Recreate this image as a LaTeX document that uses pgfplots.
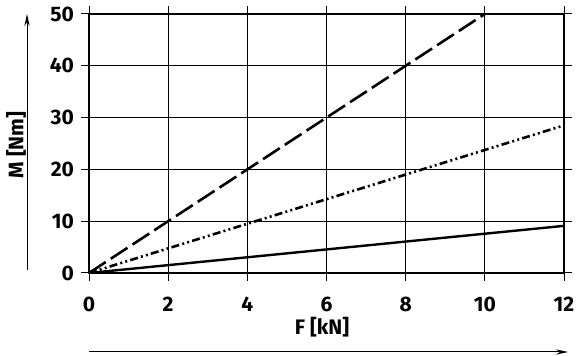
\documentclass[border=0pt]{standalone}
\usepackage{fontspec}
\setmainfont{Fira Sans}
\usepackage{pgfplots}
\pgfplotsset{compat=1.18}
\usetikzlibrary{arrows.meta}
\begin{document}
\begin{tikzpicture}[font=\bfseries\fontsize{10.5}{12}\selectfont]
\useasboundingbox (0,0) rectangle (288.5pt,178pt);
\begin{axis}[
  at={(44.5pt,41.5pt)}, anchor=origin,
  scale only axis, width=237.5pt, height=129.5pt,
  xmin=0, xmax=12, ymin=0, ymax=50,
  xtick={0,2,...,12}, ytick={0,10,...,50},
  grid=major,
  major grid style={black, line width=0.5pt},
  axis line style={black, line width=0.6pt},
  tick style={black, line width=0.5pt},
  tick align=outside, major tick length=4pt,
  /pgf/number format/assume math mode=true,
  ticklabel style={font=\bfseries\fontsize{10.5}{12}\selectfont},
  xticklabel style={yshift=-4.5pt},
  yticklabel style={xshift=0pt},
  clip=true,
]
\addplot[black, line width=1.3pt, dash pattern=on 10pt off 3pt] coordinates {(0,0) (10,50)};
\addplot[black, line width=1.3pt, dash pattern=on 4pt off 1.6pt on 1pt off 1.6pt on 1pt off 1.6pt] coordinates {(0,0) (12,28.5)};
\addplot[black, line width=1.2pt] coordinates {(0,0) (12,9.1)};
\end{axis}
\draw[line width=0.5pt, -{Stealth[length=6pt,width=2.6pt]}] (13.5pt,43pt) -- (13.5pt,171pt);
\node[rotate=90] at (8pt,105.5pt) {M [Nm]};
\draw[line width=0.5pt, -{Stealth[length=6pt,width=2.6pt]}] (44.5pt,2pt) -- (284pt,2pt);
\node at (161pt,14.5pt) {F [kN]};
\end{tikzpicture}
\end{document}
